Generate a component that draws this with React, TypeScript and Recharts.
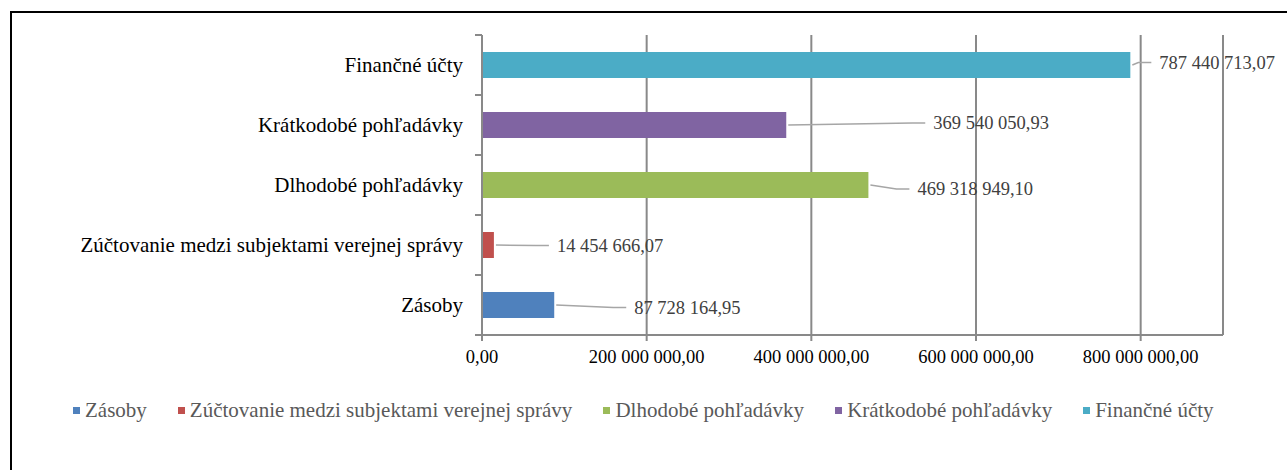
import React from 'react';
import { BarChart, Bar, XAxis, YAxis, CartesianGrid, Cell, Legend, LabelList } from 'recharts';

const CATEGORIES = [
  'Zásoby',
  'Zúčtovanie medzi subjektami verejnej správy',
  'Dlhodobé pohľadávky',
  'Krátkodobé pohľadávky',
  'Finančné účty',
];
const VALUES = [87728164.95, 14454666.07, 469318949.1, 369540050.93, 787440713.07];
const COLORS = ['#4F81BD', '#C0504D', '#9BBB59', '#8064A2', '#4BACC6'];
const X_TICKS = [0, 200000000, 400000000, 600000000, 800000000];
const X_MAX = 900000000;

// label placement (layout only)
const LABEL_DX = [80, 63, 49, 147, 29];
const LABEL_DY = [2.5, 0.5, 4, -2, -2.5];

const W = 1287;
const H = 470;
const MARGIN = { top: 35, right: 64, bottom: 105, left: 0 };
const XAXIS_H = 30;
const YAXIS_W = 482;
const PLOT_H = H - MARGIN.top - MARGIN.bottom - XAXIS_H;
const BAND = PLOT_H / CATEGORIES.length;
const FONT = '"Liberation Serif", "Times New Roman", serif';
const AXIS_COLOR = '#898989';

const data = CATEGORIES.map((name, i) => ({ name, value: VALUES[i] }));

const fmt = (v: number) => {
  const [i, d] = Number(v).toFixed(2).split('.');
  return i.replace(/\B(?=(\d{3})+(?!\d))/g, ' ') + ',' + d;
};

const XTick = (props: any) => {
  const { x, y, payload } = props;
  return (
    <text x={x} y={y + 20} textAnchor="middle" fontFamily={FONT} fontSize={18.5} fill="#000">
      {fmt(payload.value)}
    </text>
  );
};

const YTick = (props: any) => {
  const { x, y, payload } = props;
  const ax = x + 8;
  return (
    <g>
      <line x1={ax - 7} x2={ax} y1={y - BAND / 2} y2={y - BAND / 2} stroke={AXIS_COLOR} strokeWidth={2} />
      <line x1={ax - 7} x2={ax} y1={y + BAND / 2} y2={y + BAND / 2} stroke={AXIS_COLOR} strokeWidth={2} />
      <text x={x - 11} y={y + 7} textAnchor="end" fontFamily={FONT} fontSize={21} fill="#000">
        {payload.value}
      </text>
    </g>
  );
};

const ValueLabel = (props: any) => {
  const vb = props.viewBox && props.viewBox.width !== undefined ? props.viewBox : props;
  const x = Number(vb.x);
  const y = Number(vb.y);
  const width = Number(vb.width);
  const height = Number(vb.height);
  const index = props.index ?? 0;
  const value = props.value;
  const endX = x + width;
  const cy = y + height / 2;
  const lx = endX + LABEL_DX[index];
  const ly = cy + LABEL_DY[index];
  const pts = `${endX + 2},${cy} ${lx - 21},${ly} ${lx - 8},${ly}`;
  return (
    <g>
      <polyline points={pts} fill="none" stroke="#a6a6a6" strokeWidth={1.5} />
      <text x={lx} y={ly + 6.3} fontFamily={FONT} fontSize={18.5} fill="#404040">
        {fmt(value)}
      </text>
    </g>
  );
};

const LegendContent = () => (
  <div
    style={{
      display: 'flex',
      alignItems: 'center',
      paddingLeft: 73,
      height: 24,
      lineHeight: '24px',
      fontFamily: FONT,
      fontSize: 21,
      color: '#595959',
      whiteSpace: 'nowrap',
    }}
  >
    {CATEGORIES.map((c, i) => (
      <div key={c} style={{ display: 'flex', alignItems: 'center', marginRight: 31 }}>
        <span style={{ display: 'inline-block', width: 7, height: 7, background: COLORS[i], marginRight: 5 }} />
        <span>{c}</span>
      </div>
    ))}
  </div>
);

export default function App() {
  return (
    <div style={{ position: 'fixed', left: 0, top: 0, width: W, height: H, overflow: 'hidden', background: '#fff' }}>
      <div
        style={{
          position: 'absolute',
          left: 10,
          top: 11,
          width: 1330,
          height: 520,
          border: '2px solid #000',
          boxSizing: 'border-box',
        }}
      />
      <div style={{ position: 'absolute', left: 0, top: 0 }}>
        <BarChart width={W} height={H} data={data} layout="vertical" margin={MARGIN}>
          <CartesianGrid vertical={true} horizontal={false} stroke={AXIS_COLOR} strokeWidth={2} />
          <XAxis
            type="number"
            domain={[0, X_MAX]}
            ticks={X_TICKS}
            height={XAXIS_H}
            axisLine={{ stroke: AXIS_COLOR, strokeWidth: 2 }}
            tickLine={{ stroke: AXIS_COLOR, strokeWidth: 2 }}
            tick={<XTick />}
            interval={0}
          />
          <YAxis
            type="category"
            dataKey="name"
            reversed
            width={YAXIS_W}
            axisLine={{ stroke: AXIS_COLOR, strokeWidth: 2 }}
            tickLine={false}
            tick={<YTick />}
            interval={0}
          />
          <Legend
            layout="horizontal"
            verticalAlign="middle"
            align="center"
            wrapperStyle={{ left: 0, top: 398, width: W, height: 24 }}
            content={<LegendContent />}
          />
          <Bar dataKey="value" barSize={26} isAnimationActive={false}>
            {data.map((d, i) => (
              <Cell key={d.name} fill={COLORS[i]} />
            ))}
            <LabelList dataKey="value" content={<ValueLabel />} />
          </Bar>
        </BarChart>
      </div>
    </div>
  );
}
